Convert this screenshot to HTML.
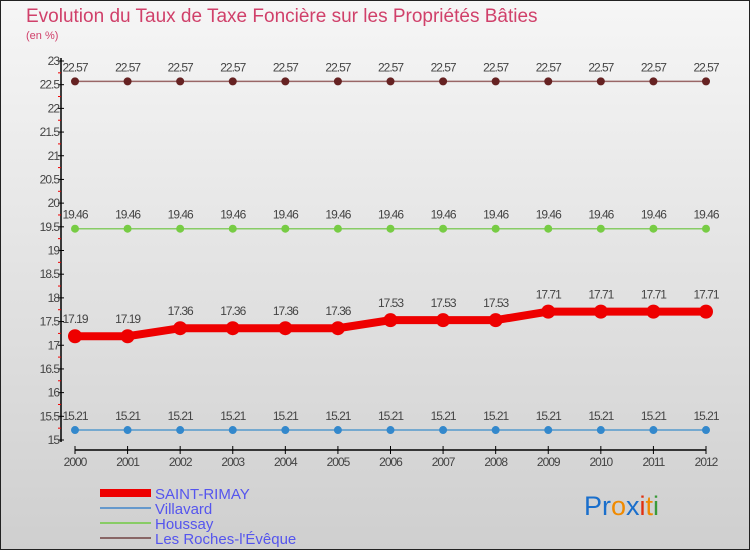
<!DOCTYPE html>
<html><head><meta charset="utf-8"><style>
body{margin:0;width:750px;height:550px;overflow:hidden}
svg{display:block;font-family:"Liberation Sans",sans-serif}
</style></head><body>
<svg id="c" width="750" height="550">
<defs><linearGradient id="bg" x1="0" y1="0" x2="0" y2="1"><stop offset="0" stop-color="#f6f6f6"/><stop offset="1" stop-color="#cfcfcf"/></linearGradient></defs>
<rect x="0.5" y="0.5" width="749" height="549" fill="url(#bg)" stroke="#222"/>
<text x="26" y="22" font-size="19" fill="#d0406a">Evolution du Taux de Taxe Foncière sur les Propriétés Bâties</text>
<text x="26" y="39" font-size="11" fill="#d0406a">(en %)</text>
<g id="axes"></g><g id="series"></g>
<g>
<rect x="100" y="489" width="51" height="8" fill="#e00"/>
<text x="155" y="499" font-size="15" fill="#5555ee">SAINT-RIMAY</text>
<rect x="100" y="507" width="51" height="2" fill="#6699cc"/>
<text x="155" y="514" font-size="15" fill="#5555ee">Villavard</text>
<rect x="100" y="522" width="51" height="2" fill="#88cc66"/>
<text x="155" y="529" font-size="15" fill="#5555ee">Houssay</text>
<rect x="100" y="537" width="51" height="2" fill="#886666"/>
<text x="155" y="544" font-size="15" fill="#5555ee">Les Roches-l'Évêque</text>
</g>
<text x="584" y="515" font-size="27"><tspan fill="#1a6fcc">Pr</tspan><tspan fill="#f08a00">o</tspan><tspan fill="#1a6fcc">x</tspan><tspan fill="#e03010">i</tspan><tspan fill="#f08a00">t</tspan><tspan fill="#3a9a3a">i</tspan></text>
</svg>
<script>
const years=[2000,2001,2002,2003,2004,2005,2006,2007,2008,2009,2010,2011,2012];
const saintRimay=[17.19,17.19,17.36,17.36,17.36,17.36,17.53,17.53,17.53,17.71,17.71,17.71,17.71];
const villavard=[15.21,15.21,15.21,15.21,15.21,15.21,15.21,15.21,15.21,15.21,15.21,15.21,15.21];
const houssay=[19.46,19.46,19.46,19.46,19.46,19.46,19.46,19.46,19.46,19.46,19.46,19.46,19.46];
const lesRoches=[22.57,22.57,22.57,22.57,22.57,22.57,22.57,22.57,22.57,22.57,22.57,22.57,22.57];
const yTicks=["15","15.5","16","16.5","17","17.5","18","18.5","19","19.5","20","20.5","21","21.5","22","22.5","23"];
const NS="http://www.w3.org/2000/svg";
const x=i=>75+i*(706-75)/(years.length-1);
const y=v=>440-(v-15)*(440-61)/8;
function mk(p,t,a){const e=document.createElementNS(NS,t);for(const k in a)e.setAttribute(k,a[k]);p.appendChild(e);return e;}
const ax=document.getElementById('axes');
let l=mk(ax,'line',{x1:61,y1:58,x2:61,y2:442,stroke:'#000','stroke-width':1.5});


yTicks.forEach(t=>{const v=parseFloat(t),yy=y(v);
 mk(ax,'line',{x1:58,y1:yy,x2:64,y2:yy,stroke:'#000'});
 if(v<23){mk(ax,'line',{x1:58,y1:y(v+0.25),x2:61,y2:y(v+0.25),stroke:'#e00'});}
 const tx=mk(ax,'text',{x:59,y:yy+4,'font-size':12,fill:'#444','text-anchor':'end','letter-spacing':'-1'});tx.textContent=t;
 
 });
l=mk(ax,'line',{x1:75,y1:450,x2:706,y2:450,stroke:'#000','stroke-width':1.5});


years.forEach((yr,i)=>{mk(ax,'line',{x1:x(i),y1:446,x2:x(i),y2:454,stroke:'#000'});
 const tx=mk(ax,'text',{x:x(i),y:466,'font-size':12,fill:'#444','text-anchor':'middle','letter-spacing':'-1'});tx.textContent=yr;
 
 });
const sg=document.getElementById('series');
function series(name,vals,color,dot,w,r){
 const g=mk(sg,'g',{});
 
 
 mk(g,'polyline',{points:vals.map((v,i)=>x(i)+','+y(v)).join(' '),fill:'none',stroke:color,'stroke-width':w});
 vals.forEach((v,i)=>{const c=mk(g,'circle',{cx:x(i),cy:y(v),r:r,fill:dot});
  
  
  const t=mk(g,'text',{x:x(i),y:y(v)-10-(r>4?3:0),'font-size':12,fill:'#444','text-anchor':'middle','letter-spacing':'-1'});t.textContent=v.toFixed(2);
  
  });}
series('les-roches',lesRoches,'#996666','#662222',1.5,4);
series('houssay',houssay,'#88cc66','#77cc44',1.5,4);
series('villavard',villavard,'#5599cc','#3388cc',1.5,4);
series('saint-rimay',saintRimay,'#ee0000','#ee0000',8,7);
</script>
</body></html>
